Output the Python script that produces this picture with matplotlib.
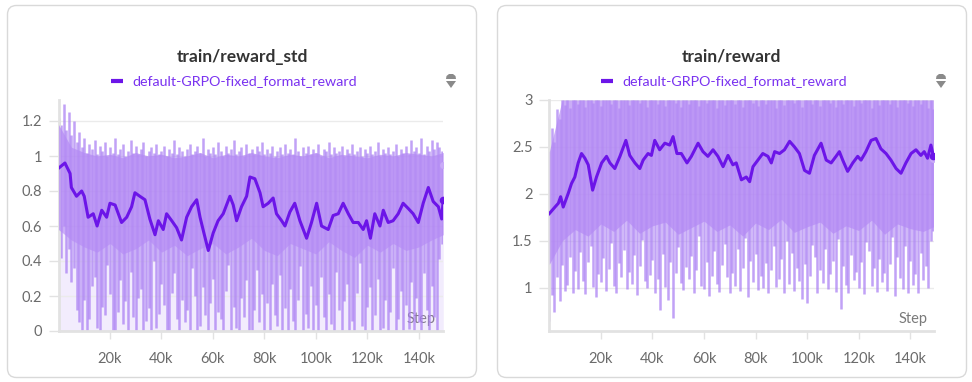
import numpy as np
import matplotlib
matplotlib.use("Agg")
import matplotlib.pyplot as plt
from matplotlib.patches import FancyBboxPatch, Polygon

plt.rcParams['font.family'] = ['Lato', 'DejaVu Sans']

# ---------------- data ----------------
series_name = "default-GRPO-fixed_format_reward"
titles = ["train/reward_std", "train/reward"]
x_ticks = [20000, 40000, 60000, 80000, 100000, 120000, 140000]
x_tick_labels = ["20k", "40k", "60k", "80k", "100k", "120k", "140k"]
std_ticks = [0, 0.2, 0.4, 0.6, 0.8, 1.0, 1.2]
std_tick_labels = ["0", "0.2", "0.4", "0.6", "0.8", "1", "1.2"]
rew_ticks = [1.0, 1.5, 2.0, 2.5, 3.0]
rew_tick_labels = ["1", "1.5", "2", "2.5", "3"]

# smoothed reward_std (steps in thousands)
std_smooth_k = [0, 2.5, 4.5, 5, 7, 9, 10, 11.5, 13.5, 15,
                16.8, 18.7, 20, 22, 24.5, 26.5, 28.4, 29.7, 31.6, 33.6,
                35.5, 37.5, 38.8, 40.7, 42, 44, 45.9, 47.8, 49.8, 51.7,
                53.7, 55, 56.5, 58.2, 60.1, 62, 64, 66.6, 67.9, 69.2,
                71.1, 73.1, 74.4, 76.3, 78.3, 79.5, 81.5, 83.4, 84.7, 86.7,
                88, 89.9, 91.8, 93.8, 96.4, 98.3, 100.3, 102.2, 104.8, 106.7,
                108.7, 110.6, 112.6, 114.5, 116.5, 118.4, 119.7, 121.2, 122.9, 124.9,
                126.2, 128.1, 130, 132, 133.9, 135.9, 137.8, 139.8, 141.7, 143.7,
                145.6, 147.6, 148.9, 149.5]
std_smooth = [0.93, 0.96, 0.90, 0.82, 0.77, 0.80, 0.77, 0.65, 0.67, 0.60,
              0.69, 0.65, 0.73, 0.72, 0.62, 0.65, 0.71, 0.79, 0.77, 0.75,
              0.64, 0.55, 0.63, 0.58, 0.67, 0.63, 0.59, 0.52, 0.65, 0.71,
              0.75, 0.65, 0.56, 0.46, 0.56, 0.63, 0.67, 0.77, 0.72, 0.63,
              0.71, 0.77, 0.88, 0.87, 0.79, 0.71, 0.73, 0.76, 0.67, 0.63,
              0.60, 0.68, 0.73, 0.63, 0.53, 0.62, 0.73, 0.60, 0.58, 0.66,
              0.67, 0.73, 0.67, 0.62, 0.62, 0.58, 0.63, 0.53, 0.67, 0.60,
              0.69, 0.62, 0.63, 0.67, 0.73, 0.70, 0.67, 0.62, 0.73, 0.82,
              0.74, 0.71, 0.64, 0.75]
std_raw_last = 0.95

# smoothed reward
rew_smooth_k = [0, 2.2, 3.5, 4.4, 5.4, 7.4, 8.6, 9.9, 11.2, 12.5,
                13.8, 15.1, 16.8, 18.3, 20.3, 22.2, 23.5, 25.4, 27.4, 29.7,
                31.2, 33.2, 35.1, 36.4, 38.3, 39.6, 40.9, 42.8, 44.8, 46.7,
                48, 49.5, 51.2, 53.4, 55.1, 57.7, 59.6, 61.5, 63.5, 65.4,
                67.4, 69.3, 71.2, 72.5, 74.5, 76.4, 77.7, 79, 80.9, 82.8,
                84.8, 86.1, 87.4, 89.3, 91.2, 93.2, 95.1, 97, 99, 100.9,
                102.8, 105.4, 107.4, 109.3, 111.2, 112.5, 113.8, 115.7, 117.7, 119.6,
                120.9, 122.8, 124.8, 126.7, 128.6, 130.6, 132.5, 134.5, 136.4, 138.3,
                140.3, 142.2, 144.1, 145.4, 146.7, 148, 149]
rew_smooth = [1.79, 1.86, 1.90, 1.97, 1.86, 2.01, 2.11, 2.18, 2.33, 2.43,
              2.38, 2.31, 2.04, 2.18, 2.33, 2.40, 2.33, 2.27, 2.40, 2.57,
              2.41, 2.33, 2.27, 2.36, 2.43, 2.41, 2.57, 2.47, 2.54, 2.52,
              2.61, 2.43, 2.43, 2.33, 2.40, 2.54, 2.45, 2.40, 2.47, 2.40,
              2.29, 2.41, 2.31, 2.33, 2.15, 2.18, 2.13, 2.29, 2.36, 2.43,
              2.40, 2.33, 2.45, 2.43, 2.47, 2.56, 2.50, 2.43, 2.25, 2.22,
              2.41, 2.54, 2.36, 2.33, 2.40, 2.45, 2.36, 2.24, 2.33, 2.40,
              2.36, 2.45, 2.57, 2.59, 2.48, 2.43, 2.36, 2.27, 2.22, 2.33,
              2.43, 2.47, 2.41, 2.45, 2.38, 2.52, 2.40]
rew_raw_last = 2.37

# dense raw band envelopes (every 5k steps)
std_band_k = [0, 5, 10, 15, 20, 25, 30, 35, 40, 45, 50, 55, 60, 65, 70, 75,
              80, 85, 90, 95, 100, 105, 110, 115, 120, 125, 130, 135, 140, 145, 149.5]
std_band_lo = [0.58, 0.52, 0.48, 0.45, 0.50, 0.44, 0.47, 0.52, 0.45, 0.49,
               0.43, 0.47, 0.50, 0.44, 0.48, 0.53, 0.46, 0.43, 0.50, 0.47,
               0.44, 0.51, 0.46, 0.42, 0.49, 0.45, 0.50, 0.46, 0.48, 0.52, 0.55]
std_band_hi = [1.18, 1.05, 1.02, 1.00, 1.01, 0.99, 1.02, 1.00, 1.01, 0.99,
               1.00, 1.02, 0.99, 1.01, 1.00, 1.02, 1.00, 0.99, 1.01, 1.00,
               1.02, 0.99, 1.01, 1.00, 0.99, 1.01, 1.00, 1.02, 1.01, 1.00, 1.02]
rew_band_k = [0, 5, 10, 15, 20, 25, 30, 35, 40, 45, 50, 55, 60, 65, 70, 75,
              80, 85, 90, 95, 100, 105, 110, 115, 120, 125, 130, 135, 140, 145, 149]
rew_band_lo = [1.25, 1.50, 1.62, 1.55, 1.68, 1.60, 1.72, 1.58, 1.66, 1.70,
               1.57, 1.64, 1.71, 1.60, 1.67, 1.55, 1.69, 1.62, 1.73, 1.59,
               1.65, 1.70, 1.58, 1.66, 1.61, 1.72, 1.57, 1.68, 1.63, 1.60, 1.65]
rew_band_hi = [2.45, 3.00, 3.00, 3.00, 3.00, 3.00, 3.00, 3.00, 3.00, 3.00,
               3.00, 3.00, 3.00, 3.00, 3.00, 3.00, 3.00, 3.00, 3.00, 3.00,
               3.00, 3.00, 3.00, 3.00, 3.00, 3.00, 3.00, 3.00, 3.00, 3.00, 3.00]

# raw spikes, one every 1k steps (0k .. 149k)
std_spike_lo = [0.55, 0.42, 0.60, 0.33, 0.47, 0.28, 0.36, 0.12, 0.05, 0.00,
                0.18, 0.00, 0.07, 0.26, 0.31, 0.02, 0.00, 0.14, 0.09, 0.38,
                0.21, 0.00, 0.00, 0.11, 0.29, 0.04, 0.17, 0.00, 0.34, 0.08,
                0.00, 0.19, 0.24, 0.00, 0.06, 0.13, 0.00, 0.40, 0.02, 0.10,
                0.27, 0.15, 0.00, 0.00, 0.22, 0.33, 0.07, 0.00, 0.18, 0.05,
                0.12, 0.00, 0.36, 0.20, 0.00, 0.03, 0.25, 0.09, 0.00, 0.16,
                0.30, 0.00, 0.11, 0.07, 0.00, 0.23, 0.38, 0.00, 0.14, 0.02,
                0.00, 0.19, 0.08, 0.29, 0.00, 0.00, 0.12, 0.35, 0.05, 0.21,
                0.00, 0.16, 0.00, 0.27, 0.09, 0.03, 0.32, 0.00, 0.13, 0.00,
                0.24, 0.06, 0.00, 0.18, 0.37, 0.00, 0.10, 0.02, 0.26, 0.00,
                0.15, 0.00, 0.31, 0.08, 0.00, 0.21, 0.04, 0.00, 0.34, 0.12,
                0.00, 0.17, 0.27, 0.00, 0.06, 0.00, 0.22, 0.39, 0.03, 0.00,
                0.14, 0.25, 0.00, 0.09, 0.30, 0.00, 0.02, 0.18, 0.00, 0.11,
                0.36, 0.00, 0.07, 0.23, 0.00, 0.15, 0.01, 0.28, 0.00, 0.19,
                0.05, 0.00, 0.33, 0.12, 0.00, 0.26, 0.08, 0.00, 0.41, 0.50]
std_spike_hi = [1.22, 1.18, 1.30, 1.15, 1.25, 1.12, 1.20, 1.08, 1.14, 1.05,
                1.10, 1.02, 1.07, 1.04, 1.09, 1.01, 1.06, 1.03, 1.08, 1.00,
                1.05, 1.02, 1.10, 1.01, 1.04, 1.07, 1.00, 1.03, 1.09, 1.02,
                1.06, 1.01, 1.04, 1.08, 1.00, 1.03, 1.05, 1.02, 1.07, 1.01,
                1.03, 1.06, 1.00, 1.04, 1.02, 1.09, 1.01, 1.05, 1.03, 1.00,
                1.04, 1.07, 1.01, 1.03, 1.06, 1.02, 1.10, 1.00, 1.04, 1.02,
                1.05, 1.01, 1.08, 1.03, 1.00, 1.06, 1.02, 1.04, 1.09, 1.01,
                1.03, 1.05, 1.00, 1.07, 1.02, 1.04, 1.01, 1.06, 1.03, 1.08,
                1.01, 1.04, 1.02, 1.06, 1.00, 1.03, 1.05, 1.01, 1.07, 1.02,
                1.04, 1.01, 1.10, 1.03, 1.00, 1.05, 1.02, 1.06, 1.01, 1.04,
                1.02, 1.07, 1.00, 1.04, 1.03, 1.08, 1.01, 1.05, 1.02, 1.03,
                1.06, 1.00, 1.04, 1.02, 1.07, 1.01, 1.03, 1.05, 1.00, 1.04,
                1.02, 1.06, 1.01, 1.03, 1.08, 1.00, 1.04, 1.02, 1.05, 1.01,
                1.03, 1.07, 1.00, 1.04, 1.02, 1.06, 1.01, 1.09, 1.03, 1.05,
                1.02, 1.10, 1.01, 1.06, 1.03, 1.09, 1.04, 1.08, 1.05, 1.03]
rew_spike_lo = [0.65, 0.92, 0.74, 1.12, 0.86, 1.24, 0.97, 1.03, 1.33, 0.95,
                1.18, 0.99, 1.38, 1.07, 0.93, 1.28, 1.45, 1.01, 0.90, 1.15,
                1.06, 1.32, 0.97, 1.20, 1.48, 1.02, 0.94, 1.26, 1.11, 1.40,
                0.99, 1.17, 1.04, 1.35, 0.92, 1.23, 1.51, 1.07, 1.00, 1.14,
                1.30, 0.95, 1.09, 0.76, 1.36, 1.01, 0.87, 1.27, 0.68, 1.16,
                1.43, 1.05, 0.98, 1.22, 1.09, 1.34, 0.94, 1.19, 1.55, 1.02,
                0.99, 1.28, 0.91, 1.13, 1.39, 1.04, 0.96, 1.24, 1.47, 1.11,
                0.94, 1.16, 1.02, 1.41, 0.97, 1.21, 1.53, 0.90, 1.29, 1.06,
                1.36, 0.98, 1.13, 1.00, 1.26, 0.94, 1.19, 1.44, 1.01, 1.09,
                1.31, 0.95, 1.50, 1.04, 1.37, 0.97, 1.21, 1.07, 0.88, 1.25,
                0.84, 1.13, 1.46, 1.33, 0.95, 1.19, 1.05, 1.41, 0.99, 1.15,
                1.29, 0.96, 1.52, 0.77, 1.23, 1.03, 0.94, 1.35, 1.08, 1.17,
                1.00, 1.27, 0.93, 1.49, 1.39, 1.02, 1.21, 0.96, 1.31, 1.06,
                1.16, 0.97, 1.25, 1.54, 0.91, 1.33, 1.10, 0.99, 1.44, 0.94,
                1.29, 1.03, 1.15, 0.95, 1.37, 1.08, 1.23, 1.00, 1.50, 1.60]
rew_spike_hi = [2.45, 2.70, 2.55, 2.90, 2.80, 3.00, 2.95, 3.00, 2.92, 3.00,
                3.00, 2.96, 3.00, 3.00, 2.93, 3.00, 3.00, 2.97, 3.00, 3.00,
                2.94, 3.00, 3.00, 3.00, 2.96, 3.00, 3.00, 2.92, 3.00, 3.00,
                3.00, 2.95, 3.00, 3.00, 3.00, 2.97, 3.00, 3.00, 2.93, 3.00,
                3.00, 3.00, 2.96, 3.00, 3.00, 2.94, 3.00, 3.00, 3.00, 2.97,
                3.00, 2.93, 3.00, 3.00, 2.96, 3.00, 3.00, 3.00, 2.94, 3.00,
                3.00, 2.97, 3.00, 3.00, 3.00, 2.92, 3.00, 3.00, 2.95, 3.00,
                3.00, 3.00, 2.96, 3.00, 3.00, 2.93, 3.00, 3.00, 3.00, 2.97,
                3.00, 2.94, 3.00, 3.00, 2.96, 3.00, 3.00, 3.00, 2.92, 3.00,
                3.00, 2.95, 3.00, 3.00, 3.00, 2.97, 3.00, 3.00, 2.93, 3.00,
                3.00, 3.00, 2.96, 3.00, 3.00, 2.94, 3.00, 3.00, 3.00, 2.97,
                3.00, 2.93, 3.00, 3.00, 2.96, 3.00, 3.00, 3.00, 2.94, 3.00,
                3.00, 2.97, 3.00, 3.00, 3.00, 2.92, 3.00, 3.00, 2.95, 3.00,
                3.00, 3.00, 2.96, 3.00, 3.00, 2.93, 3.00, 3.00, 3.00, 2.97,
                3.00, 2.94, 3.00, 3.00, 2.96, 3.00, 3.00, 2.92, 3.00, 2.90]

# ---------------- styling ----------------
W, H = 972, 382
LINE = "#6c15e8"
BAND = "#b48af4"
SPIKE = "#a97ef3"
LEGEND_TXT = "#7a32f0"
TICK_TXT = "#6b6b6b"
GRID = "#ebebeb"
AXIS = "#e2e2e2"

fig = plt.figure(figsize=(W / 100, H / 100), dpi=100)
bg = fig.add_axes([0, 0, 1, 1])
bg.set_xlim(0, W)
bg.set_ylim(H, 0)
bg.axis("off")

cards = [(7.5, 5.5, 469, 372), (497.5, 5.5, 469, 372)]
for (cx, cy, cw, ch) in cards:
    bg.add_patch(FancyBboxPatch((cx, cy), cw, ch,
                                boxstyle="round,pad=0,rounding_size=9",
                                facecolor="white", edgecolor="#d9d9d9", lw=1.0))


def px_axes(x0, x1, ytop, ybot):
    return fig.add_axes([x0 / W, (H - ybot) / H, (x1 - x0) / W, (ybot - ytop) / H])


panels = [
    dict(title=titles[0], cx=242, ax_px=(58.5, 443, 100, 331), ylim=(0, 1.32),
         ticks=std_ticks, tlabels=std_tick_labels, xlim_k=149.4,
         sk=std_smooth_k, sv=std_smooth, last_raw=std_raw_last,
         bk=std_band_k, blo=std_band_lo, bhi=std_band_hi,
         slo=std_spike_lo, shi=std_spike_hi, legend_x=111, icon_x=451,
         step_x=421, light_floor=0.0),
    dict(title=titles[1], cx=731, ax_px=(549.3, 934, 100, 331), ylim=(0.54, 3.0),
         ticks=rew_ticks, tlabels=rew_tick_labels, xlim_k=149.2,
         sk=rew_smooth_k, sv=rew_smooth, last_raw=rew_raw_last,
         bk=rew_band_k, blo=rew_band_lo, bhi=rew_band_hi,
         slo=rew_spike_lo, shi=rew_spike_hi, legend_x=601, icon_x=941,
         step_x=913, light_floor=None),
]

spike_k = np.arange(0, 150, 1.0)

for p in panels:
    x0, x1, yt, yb = p["ax_px"]
    ax = px_axes(x0, x1, yt, yb)
    ax.set_facecolor("none")
    ax.set_xlim(0, p["xlim_k"] * 1000)
    ax.set_ylim(*p["ylim"])

    ax.set_yticks(p["ticks"])
    ax.set_yticklabels(p["tlabels"])
    ax.set_xticks(x_ticks)
    ax.set_xticklabels(x_tick_labels)
    ax.grid(axis="y", color=GRID, lw=1.0, zorder=0)
    for s in ["top", "right"]:
        ax.spines[s].set_visible(False)
    for s in ["left", "bottom"]:
        ax.spines[s].set_color(AXIS)
        ax.spines[s].set_linewidth(2.0)
    ax.tick_params(axis="y", length=7, width=1, color=AXIS, labelcolor=TICK_TXT,
                   labelsize=10.5, pad=5)
    ax.tick_params(axis="x", length=6, width=1, color=AXIS, labelcolor=TICK_TXT,
                   labelsize=10.5, pad=9)

    bx = np.array(p["bk"]) * 1000
    sx = spike_k * 1000
    if p["light_floor"] is not None:
        ax.fill_between(bx, p["light_floor"], p["blo"], color=BAND, alpha=0.16,
                        lw=0, zorder=1)
    ax.vlines(sx, p["slo"], p["shi"], color=SPIKE, alpha=0.72, lw=1.8, zorder=2)
    ax.fill_between(bx, p["blo"], p["bhi"], color=BAND, alpha=0.7, lw=0, zorder=3)

    kx = np.array(p["sk"]) * 1000
    ax.plot(kx, p["sv"], color=LINE, lw=2.2, zorder=5, solid_joinstyle="round")
    ax.plot([kx[-1]], [p["last_raw"]], "o", ms=5, color="#c9abf8", zorder=5, mec="none")
    ax.plot([kx[-1]], [p["sv"][-1]], "o", ms=5.5, color=LINE, zorder=6, mec="none")

    bg.text(p["step_x"], 319, "Step", ha="center", va="center", fontsize=10.5,
            color="#7a7a7a", zorder=10)
    bg.text(p["cx"], 57, p["title"], ha="center", va="center", fontsize=12.5,
            fontweight="bold", color="#333333")
    lx = p["legend_x"]
    bg.plot([lx, lx + 12], [81, 81], color=LINE, lw=3, solid_capstyle="butt")
    bg.text(lx + 21, 81, series_name, ha="left", va="center", fontsize=10.3,
            color=LEGEND_TXT)
    ix = p["icon_x"]
    bg.add_patch(Polygon([[ix - 5, 79], [ix - 4.5, 76], [ix - 2, 74], [ix + 2, 74],
                          [ix + 4.5, 76], [ix + 5, 79]], closed=True,
                         facecolor="#8a8a8a", edgecolor="none"))
    bg.add_patch(Polygon([[ix - 5, 81], [ix + 5, 81], [ix, 88]], closed=True,
                         facecolor="#8a8a8a", edgecolor="none"))

fig.savefig("out.png", dpi=100)
